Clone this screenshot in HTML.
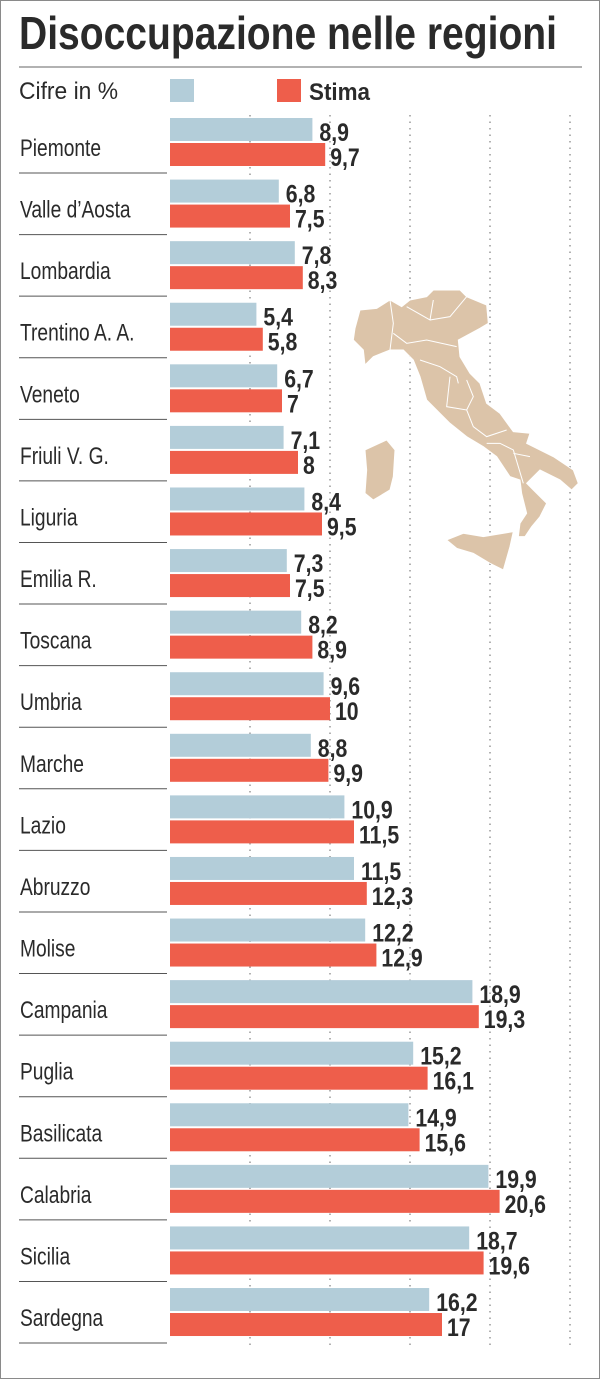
<!DOCTYPE html>
<html><head><meta charset="utf-8"><style>
html,body{margin:0;padding:0;background:#fff}
svg{display:block}
text{font-family:"Liberation Sans Narrow","Liberation Sans",sans-serif;fill:#2a2a2a}
</style></head><body>
<svg width="600" height="1379" viewBox="0 0 600 1379" xmlns="http://www.w3.org/2000/svg">
<rect x="0.5" y="0.5" width="599" height="1378" fill="#fff" stroke="#8a8a8a"/>
<text x="19" y="49" font-size="46" font-weight="bold" textLength="538" lengthAdjust="spacingAndGlyphs">Disoccupazione nelle regioni</text>
<line x1="19" y1="67" x2="582" y2="67" stroke="#666" stroke-width="1"/>
<text x="19" y="99" font-size="24" textLength="99" lengthAdjust="spacingAndGlyphs">Cifre in %</text>
<rect x="170" y="79" width="24" height="23" fill="#b3cdd9"/>
<rect x="277" y="79" width="24" height="23" fill="#ee5e4b"/>
<text x="309" y="100" font-size="24" font-weight="bold" textLength="61" lengthAdjust="spacingAndGlyphs">Stima</text>
<g stroke="#999" stroke-width="1.5" stroke-dasharray="1.5,5">
<line x1="250" y1="115" x2="250" y2="1350"/><line x1="330" y1="115" x2="330" y2="1350"/>
<line x1="410" y1="115" x2="410" y2="1350"/><line x1="490" y1="115" x2="490" y2="1350"/>
<line x1="570" y1="115" x2="570" y2="1350"/>
</g>
<g transform="translate(340,250) scale(0.3333)" fill="#dcc4a9" stroke="#fff" stroke-width="3">
<path d="M45,235 L60,180 L110,175 L150,150 L185,170 L210,150 L260,140 L280,120 L360,120 L380,140 L440,165 L445,220 L420,235 L355,270 L360,320 L390,370 L420,400 L440,460 L480,490 L520,545 L570,550 L560,580 L640,620 L700,660 L715,700 L695,720 L660,690 L600,660 L580,680 L560,700 L580,720 L620,760 L600,800 L575,830 L555,860 L535,860 L540,820 L560,790 L545,730 L540,690 L510,680 L470,620 L430,590 L380,560 L330,520 L300,490 L260,450 L240,380 L220,330 L190,300 L150,300 L100,320 L75,345 L70,300 L40,270 Z"/>
<path d="M75,600 L140,570 L165,600 L160,680 L150,720 L100,750 L75,730 L80,660 Z"/>
<path d="M320,870 L370,850 L430,860 L520,845 L510,890 L490,960 L450,940 L400,910 L350,895 Z"/>
<path fill="none" d="M150,300 L160,220 L150,150 M160,250 L200,280 L260,270 L350,290 M200,170 L270,210 L280,150 M270,210 L330,200 L380,140 M240,330 L300,350 L350,380 L355,400 M330,380 L320,470 L380,480 L400,440 L380,390 M380,480 L400,530 L440,560 L500,540 M440,580 L480,580 L520,600 L550,700 M520,610 L570,620"/>
</g>
<g id="rows"></g>
</svg>
<script>
var d=[["Piemonte",8.9,9.7,"8,9","9,7"],["Valle d\u2019Aosta",6.8,7.5,"6,8","7,5"],["Lombardia",7.8,8.3,"7,8","8,3"],["Trentino A. A.",5.4,5.8,"5,4","5,8"],["Veneto",6.7,7,"6,7","7"],["Friuli V. G.",7.1,8,"7,1","8"],["Liguria",8.4,9.5,"8,4","9,5"],["Emilia R.",7.3,7.5,"7,3","7,5"],["Toscana",8.2,8.9,"8,2","8,9"],["Umbria",9.6,10,"9,6","10"],["Marche",8.8,9.9,"8,8","9,9"],["Lazio",10.9,11.5,"10,9","11,5"],["Abruzzo",11.5,12.3,"11,5","12,3"],["Molise",12.2,12.9,"12,2","12,9"],["Campania",18.9,19.3,"18,9","19,3"],["Puglia",15.2,16.1,"15,2","16,1"],["Basilicata",14.9,15.6,"14,9","15,6"],["Calabria",19.9,20.6,"19,9","20,6"],["Sicilia",18.7,19.6,"18,7","19,6"],["Sardegna",16.2,17,"16,2","17"]];
var g=document.getElementById("rows"),s="",k=16,sx=0.8,vs=0.85;
d.forEach(function(r,i){var y=118+i*61.58;
var bw=r[1]*k,rw=r[2]*k;
s+='<rect x="170" y="'+y+'" width="'+bw+'" height="23" fill="#b3cdd9"/>';
s+='<rect x="170" y="'+(y+25)+'" width="'+rw+'" height="23" fill="#ee5e4b"/>';
s+='<text transform="translate(20,'+(y+38)+') scale('+sx+',1)" x="0" y="0" font-size="24">'+r[0]+'</text>';
s+='<text transform="translate('+(170+bw+7)+','+(y+23)+') scale('+vs+',1)" font-size="25" font-weight="bold">'+r[3]+'</text>';
s+='<text transform="translate('+(170+rw+5)+','+(y+48)+') scale('+vs+',1)" font-size="25" font-weight="bold">'+r[4]+'</text>';
s+='<line x1="19" y1="'+(y+55)+'" x2="167" y2="'+(y+55)+'" stroke="#555" stroke-width="1"/>';
});
g.innerHTML=s;
</script>
</body></html>
